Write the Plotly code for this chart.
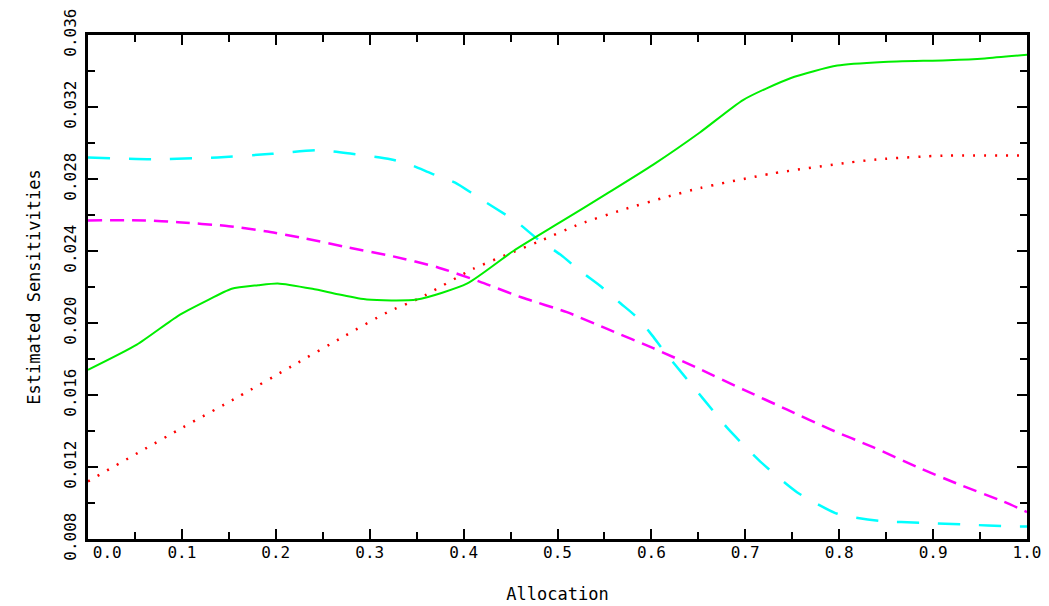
import plotly.graph_objects as go

# ---- data ----
alloc_green = [0.0, 0.052, 0.096, 0.125, 0.153, 0.181, 0.202, 0.239, 0.266, 0.297, 0.35, 0.404,
               0.453, 0.503, 0.553, 0.602, 0.652, 0.698, 0.748, 0.798, 0.847, 0.916, 0.955, 1.0]
sens_green = [0.0174, 0.0188, 0.0204, 0.0212, 0.0219, 0.0221, 0.0222, 0.0219, 0.0216, 0.0213, 0.0213, 0.0222,
              0.0240, 0.0256, 0.0272, 0.0288, 0.0306, 0.0324, 0.0336, 0.0343, 0.0345, 0.0346, 0.0347, 0.0349]

alloc_red = [0.0, 0.057, 0.101, 0.160, 0.217, 0.274, 0.319, 0.354, 0.410, 0.479, 0.524, 0.570,
             0.616, 0.652, 0.728, 0.808, 0.843, 0.911, 1.0]
sens_red = [0.0112, 0.0129, 0.0142, 0.0159, 0.0176, 0.0193, 0.0206, 0.0214, 0.0230, 0.0245, 0.0255, 0.0263,
            0.0270, 0.0275, 0.0283, 0.0289, 0.0291, 0.0293, 0.0293]

alloc_cyan = [0.0, 0.068, 0.138, 0.196, 0.245, 0.281, 0.322, 0.343, 0.366, 0.391, 0.412, 0.433, 0.457,
              0.478, 0.503, 0.524, 0.547, 0.567, 0.585, 0.601, 0.614, 0.655, 0.682, 0.716, 0.755, 0.798,
              0.843, 0.889, 0.936, 0.982, 1.0]
sens_cyan = [0.0292, 0.0291, 0.0292, 0.0294, 0.0296, 0.0294, 0.0291, 0.0288, 0.0283, 0.0278, 0.0271, 0.0264, 0.0256,
             0.0247, 0.0238, 0.0229, 0.0220, 0.0211, 0.0203, 0.0193, 0.0184, 0.0158, 0.0141, 0.0123, 0.0106, 0.0094,
             0.0090, 0.0089, 0.0088, 0.0087, 0.0087]

alloc_magenta = [0.0, 0.061, 0.096, 0.146, 0.189, 0.231, 0.277, 0.325, 0.372, 0.417, 0.463, 0.510,
                 0.556, 0.602, 0.649, 0.698, 0.744, 0.790, 0.836, 0.883, 0.929, 0.974, 1.0]
sens_magenta = [0.0257, 0.0257, 0.0256, 0.0254, 0.0251, 0.0247, 0.0242, 0.0237, 0.0231, 0.0223, 0.0214, 0.0206,
                0.0196, 0.0186, 0.0175, 0.0163, 0.0152, 0.0141, 0.0131, 0.0120, 0.0110, 0.0101, 0.0095]

x_ticks = [0.0, 0.1, 0.2, 0.3, 0.4, 0.5, 0.6, 0.7, 0.8, 0.9, 1.0]
x_tick_labels = ["\u00a0\u00a0\u00a0\u00a00.0", "0.1", "0.2", "0.3", "0.4", "0.5",
                 "0.6", "0.7", "0.8", "0.9", "1.0"]
y_ticks = [0.008, 0.012, 0.016, 0.020, 0.024, 0.028, 0.032, 0.036]
y_tick_labels = ["0.008", "0.012", "0.016", "0.020", "0.024", "0.028", "0.032", "0.036"]

FONT = "DejaVu Sans Mono"

fig = go.Figure()
fig.add_trace(go.Scatter(x=alloc_cyan, y=sens_cyan, mode="lines",
                         line=dict(color="#00ffff", width=2.5, dash="22px,19px", shape="spline", smoothing=0.6)))
fig.add_trace(go.Scatter(x=alloc_magenta, y=sens_magenta, mode="lines",
                         line=dict(color="#ff00ff", width=2.5, dash="14px,8px", shape="spline", smoothing=0.6)))
fig.add_trace(go.Scatter(x=alloc_red, y=sens_red, mode="lines",
                         line=dict(color="#ff0000", width=2.5, dash="2px,9px", shape="spline", smoothing=0.6)))
fig.add_trace(go.Scatter(x=alloc_green, y=sens_green, mode="lines",
                         line=dict(color="#00ee00", width=2, shape="spline", smoothing=0.6)))

axis_common = dict(
    showgrid=False, zeroline=False, automargin=False,
    showline=True, linecolor="black", linewidth=3, mirror="ticks",
    ticks="inside", ticklen=10, tickwidth=2, tickcolor="black",
    tickfont=dict(family=FONT, size=16, color="black"),
)

fig.update_xaxes(
    range=[0, 1], tickvals=x_ticks, ticktext=x_tick_labels,
    minor=dict(dtick=0.05, ticks="inside", ticklen=7, tickwidth=2, tickcolor="black"),
    ticklabelstandoff=-3,
    title=dict(text="Allocation", font=dict(family=FONT, size=17, color="black"), standoff=27),
    **axis_common,
)
fig.update_yaxes(
    range=[0.008, 0.036], tickvals=y_ticks, ticktext=y_tick_labels, tickangle=-90,
    minor=dict(dtick=0.002, ticks="inside", ticklen=7, tickwidth=2, tickcolor="black"),
    ticklabelstandoff=3,
    title=dict(text="Estimated Sensitivities", font=dict(family=FONT, size=17, color="black"), standoff=16),
    **axis_common,
)

# the page body adds an 8 px offset, so the figure is sized / margined to compensate
fig.update_layout(
    width=1041, height=598,
    margin=dict(l=80, r=22, t=27, b=67),
    paper_bgcolor="white", plot_bgcolor="white",
    showlegend=False,
)

fig.write_html("out.html")
